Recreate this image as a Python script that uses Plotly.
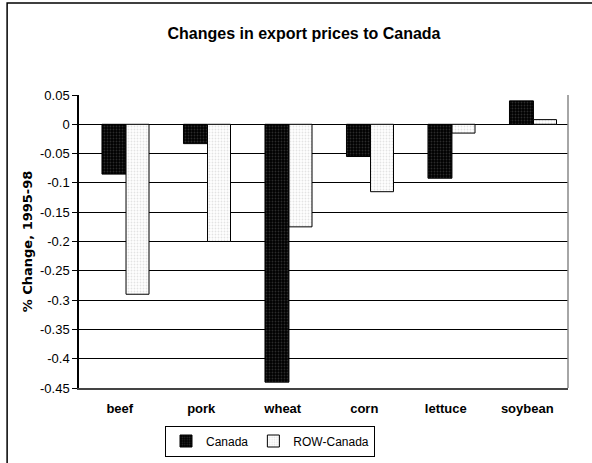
import plotly.graph_objects as go

CROPS = ["beef", "pork", "wheat", "corn", "lettuce", "soybean"]
CANADA = [-0.085, -0.033, -0.44, -0.055, -0.092, 0.04]
ROW_CANADA = [-0.29, -0.2, -0.175, -0.115, -0.015, 0.008]
Y_TICKS = [0.05, 0, -0.05, -0.1, -0.15, -0.2, -0.25, -0.3, -0.35, -0.4, -0.45]
Y_TICK_TEXT = ["0.05", "0", "-0.05", "-0.1", "-0.15", "-0.2", "-0.25", "-0.3", "-0.35", "-0.4", "-0.45"]

FONTE = "Liberation Sans, Arial, sans-serif"

fig = go.Figure()
fig.add_trace(go.Bar(
    x=CROPS, y=CANADA, name="Canada",
    offset=-0.218, width=0.294,
    marker=dict(color="black", line=dict(color="black", width=1),
                pattern=dict(shape=".", fgcolor="#555555", bgcolor="black",
                             size=3, solidity=0.3))
))
fig.add_trace(go.Bar(
    x=CROPS, y=ROW_CANADA, name="ROW-Canada",
    offset=0.077, width=0.282,
    marker=dict(color="white", line=dict(color="black", width=1),
                pattern=dict(shape=".", fgcolor="#c8c8c8", bgcolor="white",
                             size=3, solidity=0.3))
))

fig.update_layout(
    width=592, height=463,
    margin=dict(l=79, r=24, t=95, b=75),
    paper_bgcolor="white", plot_bgcolor="white",
    font=dict(family=FONTE, size=12, color="black"),
    title=dict(text="<b>Changes in export prices to Canada</b>",
               x=304 / 592, xref="container", xanchor="center",
               y=1 - 33 / 463, yanchor="middle",
               font=dict(size=16, family=FONTE)),
    barmode="group",
    showlegend=True,
    legend=dict(orientation="h", xref="container", yref="container",
                x=270 / 592, xanchor="center",
                y=1 - 441 / 463, yanchor="middle",
                bordercolor="black", borderwidth=1,
                font=dict(size=12, family=FONTE),
                itemwidth=30, tracegroupgap=0),
    xaxis=dict(showgrid=False, showline=True, linecolor="#444444", linewidth=1.5,
               mirror=False, ticks="", ticklabelstandoff=8, automargin=False,
               tickfont=dict(size=13, family=FONTE, weight="bold")),
    yaxis=dict(range=[-0.45, 0.05], tickvals=Y_TICKS, ticktext=Y_TICK_TEXT,
               showgrid=True, gridcolor="black", gridwidth=1,
               zeroline=True, zerolinecolor="black", zerolinewidth=1,
               showline=True, linecolor="black", linewidth=1.5,
               ticks="outside", ticklen=5, tickcolor="black", automargin=False,
               tickfont=dict(size=13, family=FONTE),
               title=dict(text="<b>% Change, 1995-98</b>", standoff=4,
                          font=dict(size=13, family="DejaVu Sans"))),
    shapes=[
        dict(type="line", xref="paper", yref="paper", x0=1, x1=1, y0=0, y1=1,
             line=dict(color="#888888", width=1.5)),
        dict(type="rect", xref="paper", yref="paper",
             x0=-0.147, x1=1.065, y0=-0.4, y1=1.314,
             line=dict(color="black", width=1.5), layer="below"),
    ],
)

# la page HTML ajoute une marge de 8px au body : on la retire
fig.write_html("out.html", config={"displayModeBar": False},
               post_script="document.body.style.margin='0';")
